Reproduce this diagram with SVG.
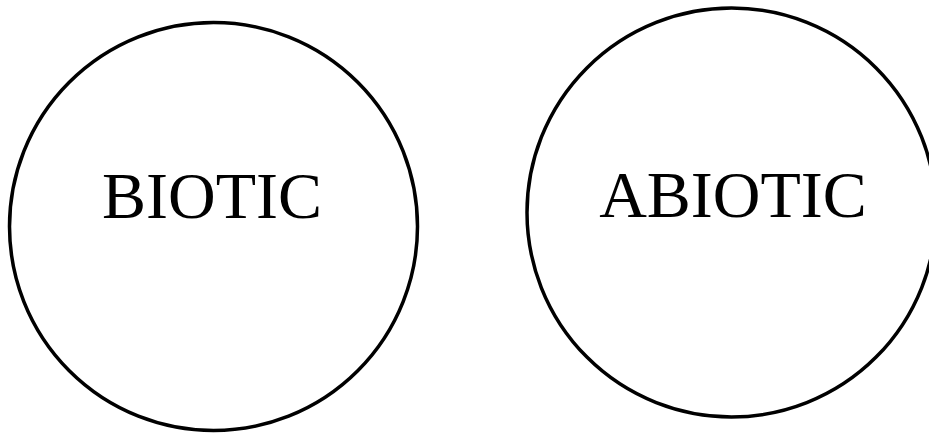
<svg xmlns="http://www.w3.org/2000/svg" width="929" height="433" viewBox="0 0 929 433">
<style>
.c{fill:none;stroke:#000;stroke-width:3.5}
.t{font-family:"Liberation Serif","Times New Roman",serif;font-size:66px;fill:#000;text-anchor:middle}
</style>
<rect width="929" height="433" fill="#fff"/>
<g id="biotic">
<circle class="c" cx="213.5" cy="226.5" r="204"/>
<text class="t" x="212" y="218">BIOTIC</text>
</g>
<g id="abiotic">
<circle class="c" cx="731.5" cy="212.5" r="204.5"/>
<text class="t" x="733" y="217">ABIOTIC</text>
</g>
<g id="connectors"></g>
</svg>
